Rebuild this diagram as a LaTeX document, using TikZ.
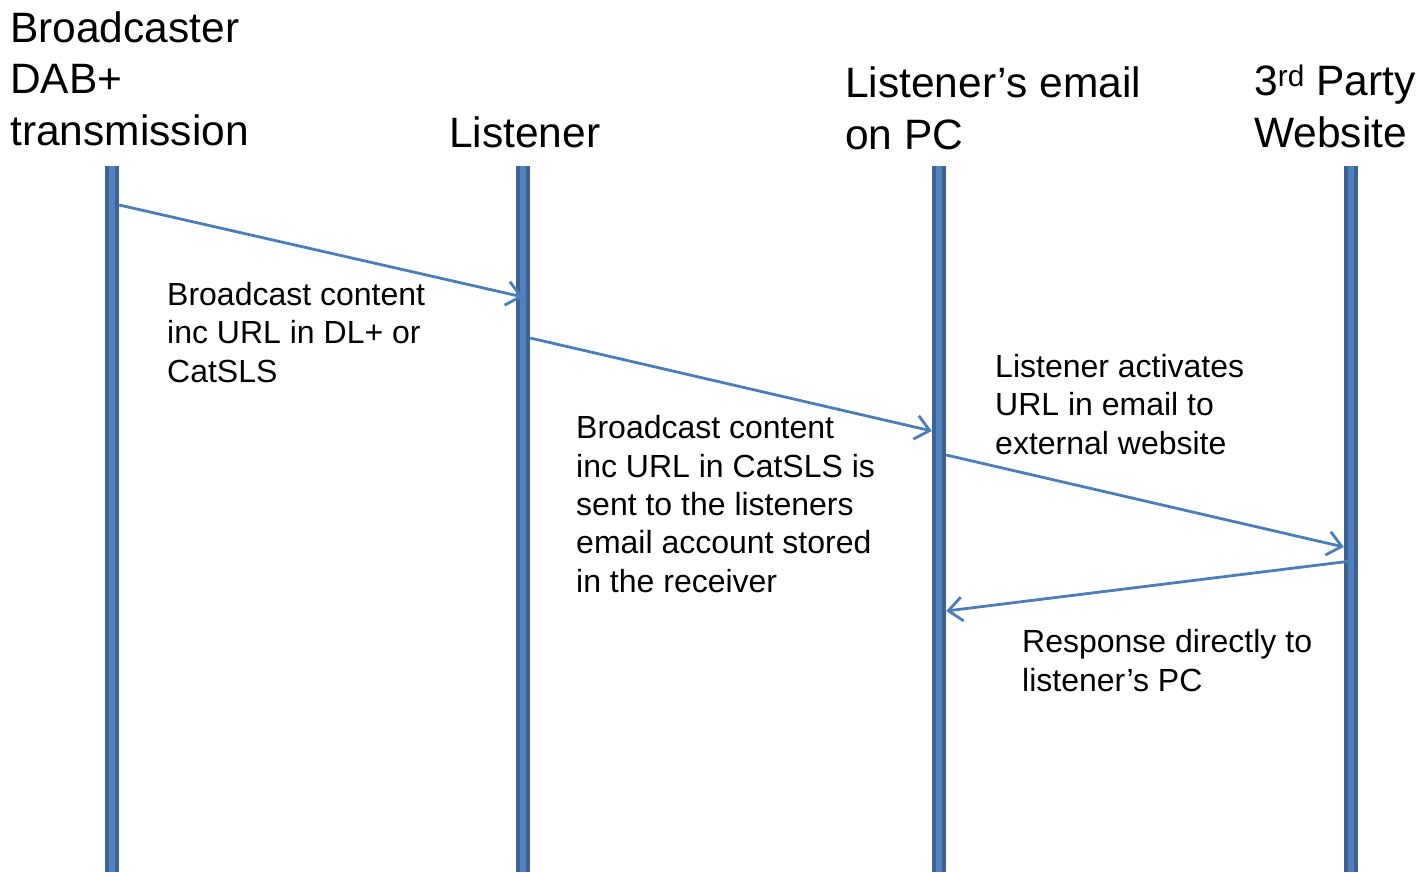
\documentclass[tikz,border=0pt]{standalone}
\usepackage{fontspec}
\setmainfont{Liberation Sans}
\usetikzlibrary{arrows.meta}
\definecolor{barout}{RGB}{60,98,150}
\definecolor{barin}{RGB}{79,129,189}
\definecolor{msgline}{RGB}{74,126,187}
\tikzset{
  lifeline/.style={rectangle, fill=barout, inner sep=0, minimum width=14pt, minimum height=706pt,
    path picture={\fill[barin] ([xshift=-3pt]path picture bounding box.north) rectangle ([xshift=3pt]path picture bounding box.south);}},
  head/.style={anchor=base west, align=left, inner sep=0, font=\fontsize{42.5}{51.5}\selectfont},
  note/.style={anchor=base west, align=left, inner sep=0, font=\fontsize{32}{38.3}\selectfont},
  msg/.style={draw=msgline, line width=2.8pt, -{Straight Barb[length=14pt,width=24pt]}}
}
\begin{document}
\begin{tikzpicture}[x=1pt,y=-1pt]
\useasboundingbox (0,0) rectangle (1420,872);
% lifelines
\foreach \x/\n in {112/dab,523/lis,939/pc,1351/web}
  \node[lifeline] (\n) at (\x,519) {};
% headings
\node[head] (hdab) at (10,145) {Broadcaster\\DAB+\\transmission};
\node[head] (hlis) at (449,147) {Listener};
\node[head] (hpc) at (845,149) {Listener’s email\\on PC};
\node[head] (hweb) at (1254,147) {3\textsuperscript{rd} Party\\Website};
% messages
\coordinate (m1a) at (dab.east |- 0,205);
\coordinate (m1b) at (lis.center |- 0,297);
\coordinate (m2a) at (lis.east |- 0,338);
\coordinate (m2b) at (pc.west |- 0,431);
\coordinate (m3a) at (pc.east |- 0,455);
\coordinate (m3b) at (web.west |- 0,547);
\coordinate (m4a) at (web.center |- 0,561);
\coordinate (m4b) at (pc.east |- 0,611);
\draw[msg] (m1a) -- (m1b);
\draw[msg] (m2a) -- (m2b);
\draw[msg] (m3a) -- (m3b);
\draw[msg] (m4a) -- (m4b);
% notes
\node[note] (n1) at (167,382) {Broadcast content\\inc URL in DL+ or\\CatSLS};
\node[note] (n2) at (576,592) {Broadcast content\\inc URL in CatSLS is\\sent to the listeners\\email account stored\\in the receiver};
\node[note] (n3) at (995,454) {Listener activates\\URL in email to\\external website};
\node[note] (n4) at (1022,691) {Response directly to\\listener’s PC};
\end{tikzpicture}
\end{document}
